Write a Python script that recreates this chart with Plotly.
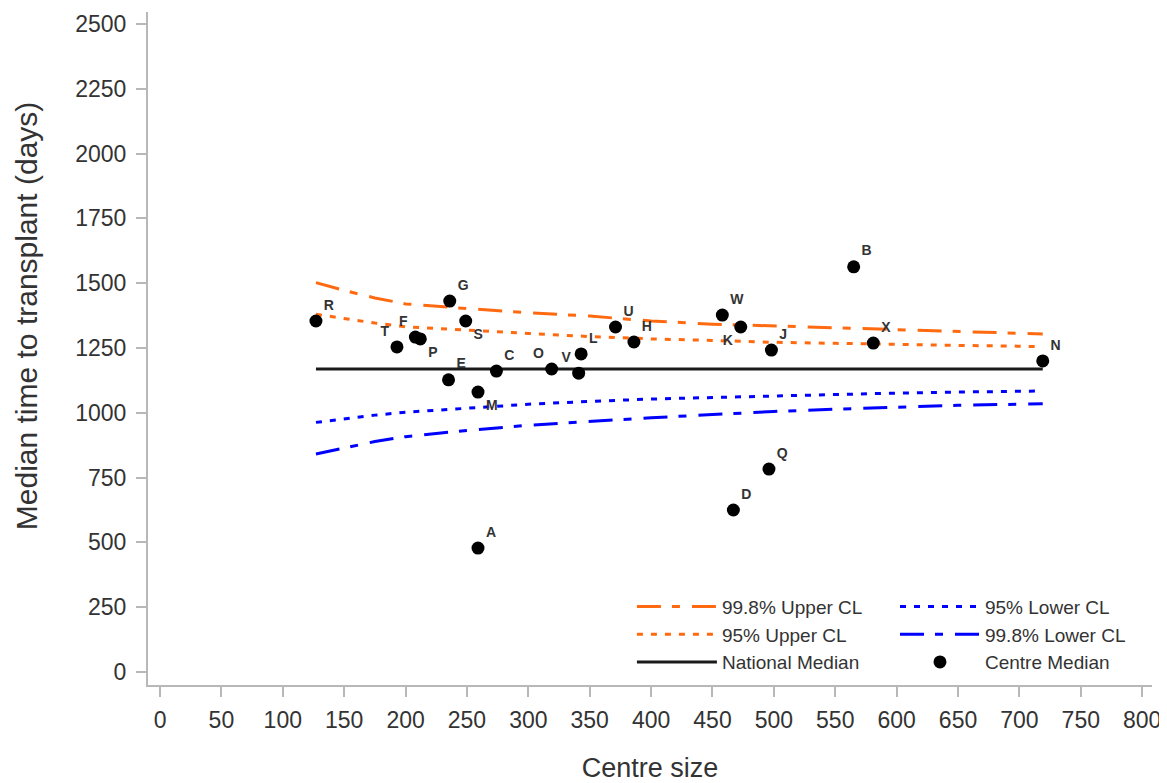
import plotly.graph_objects as go

# Centre data (centre size, median days to transplant)
centres = ["R", "T", "F", "P", "G", "S", "E", "M", "C", "O", "V", "L", "U", "H",
           "W", "K", "J", "B", "X", "N", "A", "D", "Q"]
centre_size = [127, 193, 208, 212, 236, 249, 235, 259, 274, 319, 341, 343, 371, 386,
               458, 473, 498, 565, 581, 719, 259, 467, 496]
centre_median = [1354, 1254, 1292, 1285, 1431, 1354, 1127, 1080, 1161, 1169, 1153, 1227, 1331, 1273,
                 1377, 1331, 1242, 1563, 1269, 1200, 478, 625, 783]
label_pos = ["top right", "top left", "top left", "bottom right", "top right", "bottom right",
             "top right", "bottom right", "top right", "top left", "top left", "top right",
             "top right", "top right", "top right", "bottom left", "top right", "top right",
             "top right", "top right", "top right", "top right", "top right"]

# Control limits read along centre size
limit_size = [127, 150, 175, 200, 250, 300, 350, 400, 450, 500, 550, 600, 650, 700, 719]
upper_998 = [1502, 1472, 1443, 1420, 1402, 1386, 1373, 1354, 1342, 1335, 1327, 1319, 1313, 1307, 1304]
upper_95 = [1380, 1364, 1346, 1332, 1318, 1306, 1294, 1285, 1279, 1272, 1268, 1263, 1260, 1257, 1255]
lower_95 = [963, 977, 991, 1002, 1018, 1033, 1044, 1053, 1059, 1065, 1072, 1076, 1080, 1082, 1084]
lower_998 = [841, 863, 889, 908, 932, 952, 967, 981, 993, 1005, 1014, 1022, 1029, 1033, 1035]
national_median = 1169

x_ticks = list(range(0, 801, 50))
y_ticks = list(range(0, 2501, 250))

ORANGE = "#ff6a10"
BLUE = "#0000ff"
FONT = "Liberation Sans, Arial, sans-serif"
DASH_998 = "24px,11px,8px,12px"
DASH_95 = "6px,8px"

fig = go.Figure()

# left legend column
fig.add_trace(go.Scatter(x=limit_size, y=upper_998, mode="lines", name="99.8% Upper CL",
                         line=dict(color=ORANGE, width=3, dash=DASH_998), legend="legend"))
fig.add_trace(go.Scatter(x=limit_size, y=upper_95, mode="lines", name="95% Upper CL",
                         line=dict(color=ORANGE, width=3, dash=DASH_95), legend="legend"))
fig.add_trace(go.Scatter(x=[limit_size[0], limit_size[-1]], y=[national_median, national_median],
                         mode="lines", name="National Median",
                         line=dict(color="#1a1a1a", width=3), legend="legend"))
# right legend column
fig.add_trace(go.Scatter(x=limit_size, y=lower_95, mode="lines", name="95% Lower CL",
                         line=dict(color=BLUE, width=3, dash=DASH_95), legend="legend2"))
fig.add_trace(go.Scatter(x=limit_size, y=lower_998, mode="lines", name="99.8% Lower CL",
                         line=dict(color=BLUE, width=3, dash=DASH_998), legend="legend2"))
fig.add_trace(go.Scatter(x=centre_size, y=centre_median, mode="markers", name="Centre Median",
                         marker=dict(color="black", size=13), legend="legend2"))
# centre letters
fig.add_trace(go.Scatter(x=centre_size, y=centre_median, mode="markers+text", text=centres,
                         textposition=label_pos, showlegend=False, hoverinfo="skip",
                         marker=dict(size=11, opacity=0),
                         textfont=dict(family=FONT, size=14, color="#333333", weight="bold")))

axis_common = dict(showgrid=False, zeroline=False, showline=True, linecolor="#b8b8b8",
                   linewidth=2, ticks="outside", ticklen=10, tickwidth=2, tickcolor="#b8b8b8",
                   automargin=False,
                   tickfont=dict(family=FONT, size=23, color="#333333"))

legend_common = dict(orientation="v", yanchor="bottom", y=0.005, xanchor="left",
                     bgcolor="rgba(0,0,0,0)", tracegroupgap=0, traceorder="normal",
                     itemwidth=80,
                     font=dict(family=FONT, size=19, color="#333333"))

# the page adds an 8px body margin, so the figure is sized to fit inside the window
fig.update_layout(
    width=1159, height=775,
    margin=dict(l=140, r=15, t=4, b=98),
    paper_bgcolor="white", plot_bgcolor="white",
    font=dict(family=FONT, color="#333333"),
    xaxis=dict(range=[-9.8, 808], tickvals=x_ticks, ticklabelstandoff=3,
               title=dict(text="Centre size", font=dict(family=FONT, size=27, color="#333333"),
                          standoff=30),
               **axis_common),
    yaxis=dict(range=[-50, 2546], tickvals=y_ticks, ticklabelstandoff=5, **axis_common),
    legend=dict(x=0.482, **legend_common),
    legend2=dict(x=0.744, **legend_common),
    showlegend=True,
    annotations=[dict(text="Median time to transplant (days)", textangle=-90,
                      xref="paper", yref="paper", x=-0.1215, y=0.548,
                      xanchor="center", yanchor="middle", showarrow=False,
                      font=dict(family=FONT, size=30, color="#333333"))],
)

fig.write_html("out.html")
